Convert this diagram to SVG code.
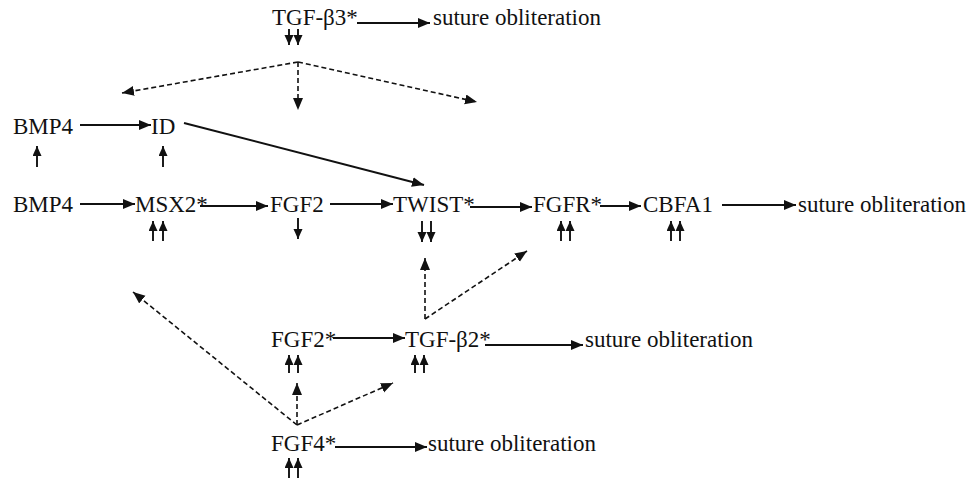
<svg xmlns="http://www.w3.org/2000/svg" width="971" height="479" viewBox="0 0 971 479">
<style>
text{font-family:"Liberation Serif","Times New Roman",serif;font-size:23px;fill:#111}
.s{stroke:#111;stroke-width:1.9;fill:none;marker-end:url(#ah)}
.d{stroke:#111;stroke-width:1.6;fill:none;stroke-dasharray:5,3;marker-end:url(#ah)}
.m{stroke:#111;stroke-width:1.9;fill:none;marker-end:url(#ah2)}
</style>
<defs>
<marker id="ah" markerUnits="userSpaceOnUse" markerWidth="14" markerHeight="12" refX="12" refY="5" orient="auto"><path d="M0,0 L12,5 L0,10 z" fill="#111"/></marker>
<marker id="ah2" markerUnits="userSpaceOnUse" markerWidth="12" markerHeight="12" refX="10" refY="4.5" orient="auto"><path d="M0,0 L10,4.5 L0,9 z" fill="#111"/></marker>
</defs>
<rect width="971" height="479" fill="#fff"/>
<g id="n_tgfb3"><text x="272" y="25">TGF-β3*</text></g>
<g id="n_sut1"><text x="433" y="25">suture obliteration</text></g>
<g id="n_bmp4a"><text x="13" y="134">BMP4</text></g>
<g id="n_id"><text x="151" y="134">ID</text></g>
<g id="n_bmp4b"><text x="13" y="212">BMP4</text></g>
<g id="n_msx2"><text x="135" y="212">MSX2*</text></g>
<g id="n_fgf2"><text x="270" y="212">FGF2</text></g>
<g id="n_twist"><text x="393" y="212">TWIST*</text></g>
<g id="n_fgfr"><text x="533" y="212">FGFR*</text></g>
<g id="n_cbfa1"><text x="643" y="212">CBFA1</text></g>
<g id="n_sut2"><text x="798" y="212">suture obliteration</text></g>
<g id="n_fgf2s"><text x="271" y="347">FGF2*</text></g>
<g id="n_tgfb2"><text x="405" y="347">TGF-β2*</text></g>
<g id="n_sut3"><text x="585" y="347">suture obliteration</text></g>
<g id="n_fgf4"><text x="271" y="451">FGF4*</text></g>
<g id="n_sut4"><text x="428" y="451">suture obliteration</text></g>
<g id="connectors">
<line class="s" x1="357" y1="23" x2="430" y2="23"/>
<line class="s" x1="80" y1="125" x2="151" y2="125"/>
<line class="s" x1="184" y1="123" x2="424" y2="185"/>
<line class="s" x1="80" y1="204" x2="135" y2="204"/>
<line class="s" x1="200" y1="206" x2="268" y2="206"/>
<line class="s" x1="330" y1="204" x2="393" y2="204"/>
<line class="s" x1="470" y1="207" x2="532" y2="207"/>
<line class="s" x1="600" y1="206" x2="641" y2="206"/>
<line class="s" x1="722" y1="205" x2="796" y2="205"/>
<line class="s" x1="333" y1="338" x2="405" y2="338"/>
<line class="s" x1="485" y1="345" x2="583" y2="345"/>
<line class="s" x1="335" y1="447" x2="427" y2="447"/>
<line class="m" x1="289" y1="29" x2="289" y2="45"/>
<line class="m" x1="298" y1="29" x2="298" y2="45"/>
<line class="m" x1="37" y1="167" x2="37" y2="146"/>
<line class="m" x1="163" y1="167" x2="163" y2="146"/>
<line class="m" x1="153" y1="241" x2="153" y2="221"/>
<line class="m" x1="163" y1="241" x2="163" y2="221"/>
<line class="m" x1="298" y1="218" x2="298" y2="239"/>
<line class="m" x1="422" y1="221" x2="422" y2="242"/>
<line class="m" x1="431" y1="221" x2="431" y2="242"/>
<line class="m" x1="561" y1="241" x2="561" y2="221"/>
<line class="m" x1="570" y1="241" x2="570" y2="221"/>
<line class="m" x1="671" y1="241" x2="671" y2="221"/>
<line class="m" x1="680" y1="241" x2="680" y2="221"/>
<line class="m" x1="289" y1="373" x2="289" y2="355"/>
<line class="m" x1="298" y1="373" x2="298" y2="355"/>
<line class="m" x1="415" y1="373" x2="415" y2="355"/>
<line class="m" x1="424" y1="373" x2="424" y2="355"/>
<line class="m" x1="289" y1="478" x2="289" y2="458"/>
<line class="m" x1="298" y1="478" x2="298" y2="458"/>
<line class="d" x1="298" y1="62" x2="122" y2="93"/>
<line class="d" x1="298" y1="62" x2="298" y2="110"/>
<line class="d" x1="298" y1="62" x2="477" y2="102"/>
<line class="d" x1="425" y1="319" x2="425" y2="258"/>
<line class="d" x1="425" y1="319" x2="527" y2="251"/>
<line class="d" x1="297" y1="425" x2="133" y2="292"/>
<line class="d" x1="297" y1="425" x2="297" y2="383"/>
<line class="d" x1="297" y1="425" x2="393" y2="383"/>
</g>
</svg>
